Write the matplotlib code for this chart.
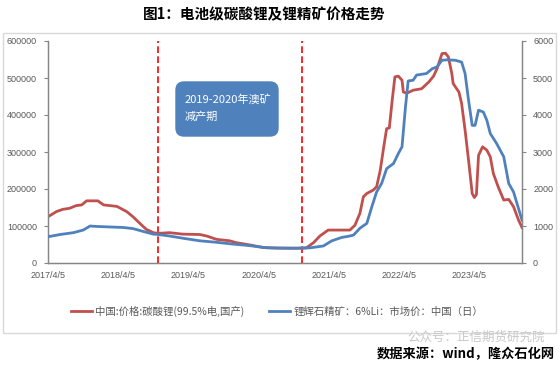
import matplotlib
matplotlib.use("Agg")
import matplotlib.pyplot as plt
from matplotlib.patches import FancyBboxPatch
import pandas as pd

plt.rcParams['font.family'] = ['Noto Sans CJK SC', 'DejaVu Sans']

# ---------------- data ----------------
li2co3_dates = ["2017-04-05", "2017-05-19", "2017-06-21", "2017-07-27", "2017-08-29", "2017-09-27",
                "2017-10-23", "2017-12-20", "2018-01-19", "2018-03-29", "2018-05-19", "2018-06-21",
                "2018-07-27", "2018-08-29", "2018-10-05", "2018-10-30", "2018-12-28", "2019-03-07",
                "2019-06-03", "2019-07-09", "2019-08-29", "2019-11-06", "2019-12-09", "2020-02-17",
                "2020-04-27", "2020-07-05", "2020-10-19", "2020-12-09", "2021-01-15", "2021-02-17",
                "2021-04-01", "2021-06-03", "2021-07-23", "2021-08-18", "2021-09-13", "2021-10-01",
                "2021-10-19", "2021-11-21", "2021-12-09", "2021-12-28", "2022-01-15", "2022-01-30",
                "2022-02-13", "2022-02-28", "2022-03-14", "2022-04-01", "2022-04-20", "2022-04-27",
                "2022-05-15", "2022-06-17", "2022-07-31", "2022-09-06", "2022-10-01", "2022-10-19",
                "2022-11-14", "2022-12-02", "2022-12-17", "2023-01-04", "2023-01-11", "2023-02-10",
                "2023-02-24", "2023-03-14", "2023-04-01", "2023-04-20", "2023-05-01", "2023-05-12",
                "2023-05-23", "2023-06-13", "2023-07-05", "2023-07-23", "2023-08-08", "2023-09-02",
                "2023-10-01", "2023-10-27", "2023-11-21", "2023-12-17", "2024-01-04"]
li2co3_price = [125000, 139000, 145000, 148000, 155000, 157000,
                168000, 168000, 157000, 153000, 139000, 125000,
                107000, 91000, 82000, 80000, 82000, 78000,
                77000, 73000, 64000, 60000, 55000, 49000,
                42000, 40500, 40000, 41000, 55000, 73000,
                89000, 89000, 89000, 102000, 134000, 179000,
                188000, 197000, 206000, 251000, 314000, 363000,
                365000, 440000, 503000, 505000, 494000, 462000,
                459000, 467000, 471000, 489000, 505000, 525000,
                566000, 567000, 557000, 512000, 485000, 462000,
                431000, 359000, 278000, 188000, 177000, 185000,
                291000, 314000, 305000, 287000, 242000, 206000,
                170000, 172000, 152000, 116000, 96000]

spod_dates = ["2017-04-05", "2017-06-07", "2017-08-15", "2017-10-05", "2017-11-10", "2017-12-05",
              "2018-05-01", "2018-06-21", "2018-08-15", "2018-10-05", "2018-10-30", "2018-12-28",
              "2019-03-07", "2019-06-03", "2019-08-29", "2019-11-25", "2020-02-17", "2020-05-15",
              "2020-08-11", "2020-11-06", "2020-12-28", "2021-03-07", "2021-04-20", "2021-06-10",
              "2021-07-23", "2021-08-11", "2021-09-13", "2021-10-19", "2021-11-14", "2021-12-09",
              "2022-01-04", "2022-01-30", "2022-03-07", "2022-04-01", "2022-04-20", "2022-05-08",
              "2022-05-22", "2022-06-17", "2022-07-05", "2022-08-25", "2022-09-24", "2022-10-19",
              "2022-11-14", "2022-12-09", "2023-01-22", "2023-02-24", "2023-03-14", "2023-04-01",
              "2023-04-20", "2023-05-05", "2023-05-23", "2023-06-17", "2023-07-05", "2023-07-23",
              "2023-08-25", "2023-10-01", "2023-10-27", "2023-11-21", "2023-12-17", "2024-01-04"]
spod_price = [710, 770, 820, 890, 1000, 990,
              960, 930, 850, 780, 770, 730,
              670, 600, 560, 510, 470, 410,
              400, 400, 410, 460, 600, 690,
              730, 755, 940, 1070, 1520, 1920,
              2150, 2550, 2690, 2960, 3140, 4220,
              4920, 4940, 5080, 5120, 5250, 5300,
              5480, 5490, 5480, 5430, 5120, 4400,
              3720, 3720, 4130, 4080, 3860, 3500,
              3230, 2870, 2150, 1920, 1470, 1160]

period_marks = ["2018-10-30", "2020-11-17"]
x_tick_dates = ["2017-04-05", "2018-04-05", "2019-04-05", "2020-04-05",
                "2021-04-05", "2022-04-05", "2023-04-05"]
x_tick_labels = ["2017/4/5", "2018/4/5", "2019/4/5", "2020/4/5",
                 "2021/4/5", "2022/4/5", "2023/4/5"]
left_ticks = [0, 100000, 200000, 300000, 400000, 500000, 600000]
right_ticks = [0, 1000, 2000, 3000, 4000, 5000, 6000]

label_li = "中国:价格:碳酸锂(99.5%电,国产)"
label_sp = "锂辉石精矿：6%Li：市场价：中国（日）"
title = "图1：电池级碳酸锂及锂精矿价格走势"
note = "2019-2020年澳矿\n减产期"
source = "数据来源：wind，隆众石化网"
watermark = "公众号：正信期货研究院"

# ---------------- figure ----------------
W, H = 560, 365
fig = plt.figure(figsize=(W / 100, H / 100), dpi=100)
fig.patch.set_facecolor("white")

# outer frame
fig.patches.append(FancyBboxPatch((3 / W, 1 - 333 / H), 553 / W, 300 / H,
                                  boxstyle="square,pad=0", transform=fig.transFigure,
                                  facecolor="none", edgecolor="#D9D9D9", lw=1.0))

ax = fig.add_axes([48 / W, 1 - 263 / H, 474 / W, 222 / H])
ax2 = ax.twinx()

red = "#C0504D"
blue = "#4F81BD"
gray_txt = "#595959"
axis_col = "#868686"

d_li = pd.to_datetime(li2co3_dates)
d_sp = pd.to_datetime(spod_dates)
l1, = ax.plot(d_li, li2co3_price, color=red, lw=2.0, label=label_li, zorder=3)
l2, = ax2.plot(d_sp, spod_price, color=blue, lw=2.0, label=label_sp, zorder=3)

for m in pd.to_datetime(period_marks):
    ax.axvline(m, color="#FF0000", lw=1.2, ls=(0, (4, 2)), zorder=2)

ax.set_xlim(pd.Timestamp("2017-04-05"), pd.Timestamp("2024-01-04"))
ax.set_ylim(0, 600000)
ax2.set_ylim(0, 6000)
ax.set_xticks(pd.to_datetime(x_tick_dates))
ax.set_xticklabels(x_tick_labels, family="Liberation Sans")
ax.set_yticks(left_ticks)
ax.set_yticklabels([str(v) for v in left_ticks], family="Liberation Sans")
ax2.set_yticks(right_ticks)
ax2.set_yticklabels([str(v) for v in right_ticks], family="Liberation Sans")

for a in (ax, ax2):
    a.spines["top"].set_visible(False)
    for s in ("left", "right", "bottom"):
        a.spines[s].set_color(axis_col)
        a.spines[s].set_linewidth(0.9)
    a.tick_params(axis="y", colors=axis_col, labelcolor=gray_txt, labelsize=6.5,
                  length=3, width=0.8, direction="out", pad=5)
ax.tick_params(axis="x", length=0, labelsize=6.5, labelcolor=gray_txt, pad=6)
ax.patch.set_alpha(0)

# title
fig.text(264 / W, 1 - 14 / H, title, ha="center", va="center", fontsize=10.5,
         fontweight="bold", color="black")

# annotation box
fig.patches.append(FancyBboxPatch((1.76, (H - 136) / 100), 1.02, 0.54,
                                  boxstyle="round,pad=0,rounding_size=0.08",
                                  transform=fig.dpi_scale_trans,
                                  facecolor=blue, edgecolor=blue, lw=1, zorder=5))
fig.text(185 / W, 1 - 108 / H, note, ha="left", va="center", fontsize=8,
         color="white", linespacing=1.7, zorder=6)

# legend
fig.legend(handles=[l1, l2], loc="center", bbox_to_anchor=(277 / W, 1 - 311 / H),
           ncol=2, frameon=False, fontsize=7.5, handlelength=2.0, handletextpad=0.3,
           columnspacing=2.4, labelcolor=gray_txt)

# watermark and source
fig.text(545 / W, 1 - 337 / H, watermark, ha="right", va="center", fontsize=9,
         color="#C8C8C8")
fig.text(555 / W, 1 - 354 / H, source, ha="right", va="center", fontsize=9.5,
         fontweight="bold", color="black")

fig.savefig("out.png", dpi=100)
